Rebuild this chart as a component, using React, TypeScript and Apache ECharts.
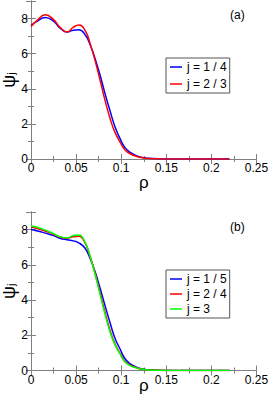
import React, { useEffect, useRef } from "react";
import * as echarts from "echarts";

const rho = [0, 0.006, 0.016, 0.025, 0.032, 0.04, 0.047, 0.053, 0.06, 0.066, 0.071, 0.077, 0.082, 0.088, 0.093, 0.099, 0.104, 0.11, 0.117, 0.122, 0.13, 0.14, 0.16, 0.22];

const topJ14 = [7.6, 7.83, 8.06, 7.85, 7.47, 7.23, 7.34, 7.36, 7.08, 6.45, 5.72, 4.7, 3.74, 2.68, 1.85, 1.13, 0.66, 0.38, 0.19, 0.1, 0.04, 0.01, 0, 0];
const topJ23 = [7.55, 7.85, 8.22, 7.94, 7.51, 7.23, 7.51, 7.63, 7.32, 6.5, 5.62, 4.4, 3.36, 2.25, 1.53, 0.94, 0.53, 0.3, 0.15, 0.08, 0.03, 0.01, 0, 0];

const botJ15 = [8.0, 7.94, 7.8, 7.66, 7.51, 7.42, 7.36, 7.25, 6.94, 6.3, 5.62, 4.6, 3.7, 2.65, 1.85, 1.19, 0.68, 0.38, 0.19, 0.1, 0.04, 0.01, 0, 0];
const botJ24 = [8.13, 8.08, 7.91, 7.74, 7.58, 7.51, 7.6, 7.62, 7.23, 6.4, 5.53, 4.33, 3.32, 2.22, 1.53, 0.94, 0.53, 0.3, 0.15, 0.08, 0.03, 0.01, 0, 0];
const botJ3 = [8.21, 8.15, 7.97, 7.77, 7.6, 7.53, 7.66, 7.7, 7.28, 6.4, 5.47, 4.24, 3.21, 2.13, 1.47, 0.91, 0.49, 0.28, 0.15, 0.08, 0.03, 0.01, 0, 0];

const topNames = ["j = 1 / 4", "j = 2 / 3"];
const botNames = ["j = 1 / 5", "j = 2 / 4", "j = 3"];
const panelLabels = ["(a)", "(b)"];

const FONT = "'Liberation Sans', Arial, sans-serif";
const AXIS_COLOR = "#808080";

export default function App() {
  const ref = useRef<HTMLDivElement>(null);
  useEffect(() => {
    if (!ref.current) return;
    const chart = echarts.init(ref.current, undefined, { renderer: "svg" });

    const grids = [
      { left: 31, top: 1, width: 225.5, height: 158, outerBoundsMode: "none", containLabel: false },
      { left: 31, top: 212, width: 225.5, height: 158.5, outerBoundsMode: "none", containLabel: false },
    ];

    const xAxes: any[] = [];
    const yAxes: any[] = [];
    [0, 1].forEach((g) => {
      const base = {
        type: "value",
        gridIndex: g,
        min: 0,
        max: 0.25,
        splitLine: { show: false },
        axisLine: { show: true, lineStyle: { color: AXIS_COLOR, width: 1 } },
      };
      xAxes.push({
        ...base,
        position: "bottom",
        interval: 0.05,
        axisTick: { show: true, inside: true, length: 5, lineStyle: { color: AXIS_COLOR } },
        axisLabel: { show: true, color: "#000", fontSize: 12, fontFamily: FONT, margin: 3 },
        name: "ρ",
        nameLocation: "middle",
        nameGap: g === 0 ? 15 : 6,
        nameMoveOverlap: false,
        nameTextStyle: { fontSize: 17, fontFamily: FONT, color: "#000" },
      });
      xAxes.push({
        ...base,
        position: "bottom",
        interval: 0.025,
        axisLine: { show: false },
        axisTick: { show: true, inside: true, length: 3, lineStyle: { color: AXIS_COLOR } },
        axisLabel: { show: false },
      });
      xAxes.push({
        ...base,
        position: "top",
        interval: 0.05,
        axisTick: { show: true, inside: true, length: 5, lineStyle: { color: AXIS_COLOR } },
        axisLabel: { show: false },
      });
      xAxes.push({
        ...base,
        position: "top",
        interval: 0.025,
        axisLine: { show: false },
        axisTick: { show: true, inside: true, length: 3, lineStyle: { color: AXIS_COLOR } },
        axisLabel: { show: false },
      });

      const ybase = {
        type: "value",
        gridIndex: g,
        min: 0,
        max: 9,
        splitLine: { show: false },
        axisLine: { show: true, lineStyle: { color: AXIS_COLOR, width: 1 } },
      };
      yAxes.push({
        ...ybase,
        position: "left",
        interval: 2,
        axisTick: { show: true, inside: true, length: 5, lineStyle: { color: AXIS_COLOR } },
        axisLabel: {
          show: true,
          color: "#000",
          fontSize: 12,
          fontFamily: FONT,
          margin: 3,
          formatter: (v: number) => (v > 8.5 ? "" : String(v)),
        },
        name: "{a|ψ}{b|j}",
        nameLocation: "middle",
        nameRotate: 90,
        nameGap: 15,
        nameMoveOverlap: false,
        nameTextStyle: {
          color: "#000",
          rich: {
            a: { fontSize: 18, fontFamily: FONT, lineHeight: 15, color: "#000" },
            b: { fontSize: 11, fontFamily: FONT, lineHeight: 11, verticalAlign: "bottom", color: "#000" },
          },
        },
      });
      yAxes.push({
        ...ybase,
        position: "left",
        interval: 1,
        axisLine: { show: false },
        axisTick: { show: true, inside: true, length: 3, lineStyle: { color: AXIS_COLOR } },
        axisLabel: { show: false },
      });
      yAxes.push({
        ...ybase,
        position: "right",
        interval: 2,
        axisTick: { show: true, inside: true, length: 5, lineStyle: { color: AXIS_COLOR } },
        axisLabel: { show: false },
      });
      yAxes.push({
        ...ybase,
        position: "right",
        interval: 1,
        axisLine: { show: false },
        axisTick: { show: true, inside: true, length: 3, lineStyle: { color: AXIS_COLOR } },
        axisLabel: { show: false },
      });
    });

    const mk = (name: string, vals: number[], color: string, g: number) => ({
      type: "line",
      name,
      xAxisIndex: g * 4,
      yAxisIndex: g * 4,
      data: rho.map((r, i) => [r, vals[i]]),
      showSymbol: false,
      symbol: "none",
      smooth: 0.5,
      lineStyle: { color, width: 1.5 },
      itemStyle: { color },
      z: 2,
    });

    const legendBase = {
      orient: "vertical",
      left: 166,
      icon: "rect",
      itemWidth: 12,
      itemHeight: 1.5,
      borderColor: "#555",
      borderWidth: 1,
      borderRadius: 0,
      backgroundColor: "#fff",
      textStyle: { fontSize: 12, fontFamily: FONT, color: "#000", lineHeight: 14 },
      selectedMode: false,
    };

    chart.setOption({
      animation: false,
      backgroundColor: "#fff",
      grid: grids,
      xAxis: xAxes,
      yAxis: yAxes,
      legend: [
        { ...legendBase, top: 58, padding: [2, 3, 2, 4], itemGap: 3, data: topNames },
        { ...legendBase, top: 270, padding: [2, 3, 2, 4], itemGap: 1, data: botNames },
      ],
      graphic: [
        { type: "text", left: 230, top: 9, style: { text: panelLabels[0], fontSize: 12, fontFamily: FONT, fill: "#000" } },
        { type: "text", left: 230, top: 221, style: { text: panelLabels[1], fontSize: 12, fontFamily: FONT, fill: "#000" } },
      ],
      series: [
        mk(topNames[0], topJ14, "#0000ff", 0),
        mk(topNames[1], topJ23, "#ff0000", 0),
        mk(botNames[0], botJ15, "#0000ff", 1),
        mk(botNames[1], botJ24, "#ff0000", 1),
        mk(botNames[2], botJ3, "#00ff00", 1),
      ],
    });
    return () => chart.dispose();
  }, []);
  return (
    <div
      ref={ref}
      style={{ position: "absolute", left: 0, top: 0, width: 270, height: 399 }}
    />
  );
}
